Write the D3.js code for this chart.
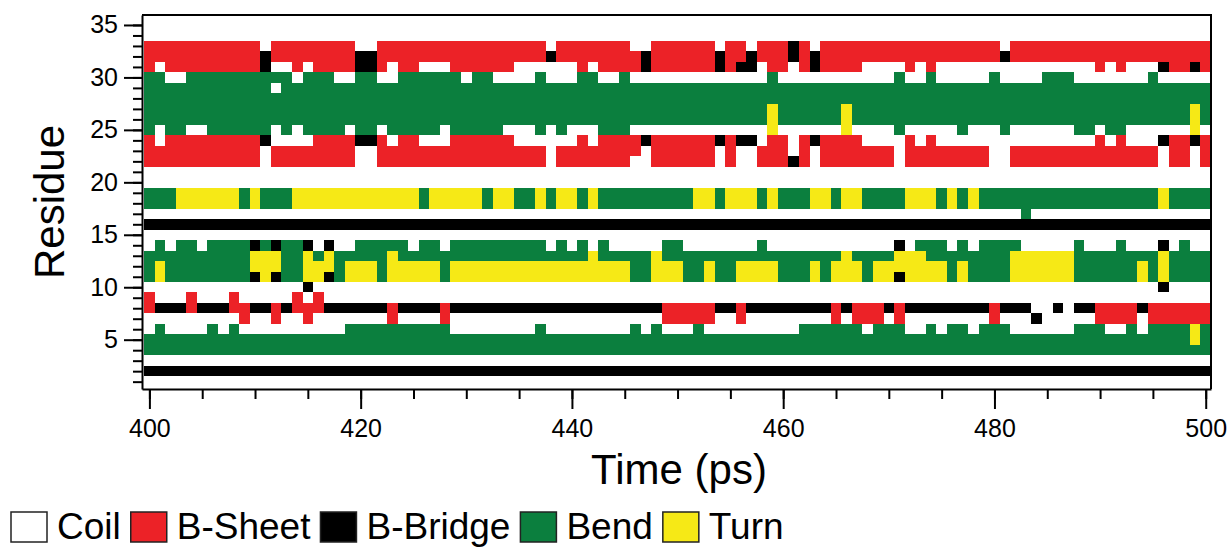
<!DOCTYPE html>
<meta charset="utf-8">
<title>DSSP secondary structure vs time</title>
<style>
body { margin: 0; background: #fff; }
svg { display: block; font-family: "Liberation Sans", Arial, sans-serif; }
.axis path, .axis line { stroke: #000; stroke-width: 2px; }
.axis text { font-size: 25px; fill: #000; }
.lbl { font-size: 42px; fill: #000; }
.leg text { font-size: 37px; fill: #000; }
.cells rect { shape-rendering: crispEdges; }
</style>
<svg width="1230" height="548"></svg>
<script src="https://d3js.org/d3.v7.min.js"></script>
<script>
// one string per residue, one char per frame (t = 400 ... 500 ps)
// C coil, E b-sheet, B b-bridge, S bend, T turn
var startTime = 400;
var residues = d3.range(1, 36);
var ssRows = [
/* 1 */ "CCCCCCCCCC CCCCCCCCCC CCCCCCCCCC CCCCCCCCCC CCCCCCCCCC CCCCCCCCCC CCCCCCCCCC CCCCCCCCCC CCCCCCCCCC CCCCCCCCCC C",
/* 2 */ "BBBBBBBBBB BBBBBBBBBB BBBBBBBBBB BBBBBBBBBB BBBBBBBBBB BBBBBBBBBB BBBBBBBBBB BBBBBBBBBB BBBBBBBBBB BBBBBBBBBB B",
/* 3 */ "CCCCCCCCCC CCCCCCCCCC CCCCCCCCCC CCCCCCCCCC CCCCCCCCCC CCCCCCCCCC CCCCCCCCCC CCCCCCCCCC CCCCCCCCCC CCCCCCCCCC C",
/* 4 */ "SSSSSSSSSS SSSSSSSSSS SSSSSSSSSS SSSSSSSSSS SSSSSSSSSS SSSSSSSSSS SSSSSSSSSS SSSSSSSSSS SSSSSSSSSS SSSSSSSSSS S",
/* 5 */ "SSSSSSSSSS SSSSSSSSSS SSSSSSSSSS SSSSSSSSSS SSSSSSSSSS SSSSSSSSSS SSSSSSSSSS SSSSSSSSSS SSSSSSSSSS SSSSSSSSST S",
/* 6 */ "CSCCCCSCSC CCCCCCCCCS SSSSSSSSSC CCCCCCCSCC CCCCCCSCSC CCSCCCCCCC CCSSSSSSCS SSCCSCSSCS SSCCCCCCSS SCCSCSSSST S",
/* 7 */ "CCCCCCCCCE CCECCECCCC CCCECCCCEC CCCCCCCCCC CCCCCCCCCE EEEECCECCC CCCCCECEEE CECCCCCCCC ECCCBCCCCC EEEECEEEEE E",
/* 8 */ "EBBBEBBBEE BBEBEEEBBB BBBEBBBBEB BBBBBBBBBB BBBBBBBBBE EEEEBBEBBB BBBBBEBEEE BEBBBBBBBB EBBBCCBCBB EEEEBEEEEE E",
/* 9 */ "ECCCECCCEC CCCCECECCC CCCCCCCCCC CCCCCCCCCC CCCCCCCCCC CCCCCCCCCC CCCCCCCCCC CCCCCCCCCC CCCCCCCCCC CCCCCCCCCC C",
/* 10 */ "CCCCCCCCCC CCCCCBCCCC CCCCCCCCCC CCCCCCCCCC CCCCCCCCCC CCCCCCCCCC CCCCCCCCCC CCCCCCCCCC CCCCCCCCCC CCCCCCBCCC C",
/* 11 */ "STSSSSSSSS BTBSSTTBST TTSTTTTTST TTTTTTTTTT TTTTTTSSTT TSSTSSTTTT SSSTSTTTST TBTTTTSTSS SSTTTTTTSS SSSSTSTSSS S",
/* 12 */ "STSSSSSSSS TTTSSTTTST TTSTTTTTST TTTTTTTTTT TTTTTTSSTT TSSTSSTTTT SSSTSTTTST TTTTTTSTSS SSTTTTTTSS SSSSTSTSSS S",
/* 13 */ "SSSSSSSSSS TTTSSTSTSS SSSTSSSSSS SSSSSSSSSS SSTSSSSSTS SSSSSSSSSS SSSSSSTSSS STTTSSSSSS SSTTTTTTSS SSSSSSTSSS S",
/* 14 */ "CSCSSCSSSS BSBSSBCBCC SSSSSCSSCS SSSSSSSSCS CSCSCCCCCS SCCCCCCCSC CCCCCCCCCC CBCSSSCSCS SSSCCCCCSC CCSCCCBCSC C",
/* 15 */ "CCCCCCCCCC CCCCCCCCCC CCCCCCCCCC CCCCCCCCCC CCCCCCCCCC CCCCCCCCCC CCCCCCCCCC CCCCCCCCCC CCCCCCCCCC CCCCCCCCCC C",
/* 16 */ "BBBBBBBBBB BBBBBBBBBB BBBBBBBBBB BBBBBBBBBB BBBBBBBBBB BBBBBBBBBB BBBBBBBBBB BBBBBBBBBB BBBBBBBBBB BBBBBBBBBB B",
/* 17 */ "CCCCCCCCCC CCCCCCCCCC CCCCCCCCCC CCCCCCCCCC CCCCCCCCCC CCCCCCCCCC CCCCCCCCCC CCCCCCCCCC CCCSCCCCCC CCCCCCCCCC C",
/* 18 */ "SSSTTTTTTS TSSSTTTTTT TTTTTTSTTT TTSTTSSTST TSTSSSSSSS SSTTSTTTST SSSTTSTTSS SSTTTSTSTS SSSSSSSSSS SSSSSSTSSS S",
/* 19 */ "SSSTTTTTTS TSSSTTTTTT TTTTTTSTTT TTSTTSSTST TSTSSSSSSS SSTTSTTTST SSSTTSTTSS SSTTTSTSTS SSSSSSSSSS SSSSSSTSSS S",
/* 20 */ "CCCCCCCCCC CCCCCCCCCC CCCCCCCCCC CCCCCCCCCC CCCCCCCCCC CCCCCCCCCC CCCCCCCCCC CCCCCCCCCC CCCCCCCCCC CCCCCCCCCC C",
/* 21 */ "CCCCCCCCCC CCCCCCCCCC CCCCCCCCCC CCCCCCCCCC CCCCCCCCCC CCCCCCCCCC CCCCCCCCCC CCCCCCCCCC CCCCCCCCCC CCCCCCCCCC C",
/* 22 */ "EEEEEEEEEE ECEEEEEEEE CCEEEEEEEE EEEEEEEECE EEEEEECCEE EEEECECCEE EBECEEEEEE ECEEEEEEEE CCEEEEEEEE EEEEEECEEC E",
/* 23 */ "EEEEEEEEEE ECEEEEEEEE CCEEEEEEEE EEEEEEEECE EEEEEEECEE EEEECECCEE ECECEEEEEE ECEEEEEEEE CCEEEEEEEE EEEEEECEEC E",
/* 24 */ "ECEEEEEEEE EBCCCCEEEE BBECEECCCE EEEEECCCCC CECEEEEBEE EEEEBEBBCE ECEBEEEECC CCECECCCCC CCCCCCCCCC ECECCCBEEB E",
/* 25 */ "SCSSCCSSSS SSCSCSSSSC SSCSSSSSCS SSSSCCCSCS CCCSSSCCCC CCCCCCCCCT CCCCCCTCCC CSCCCCCSCC CSCCCCCCSS CSSCCCCCCT C",
/* 26 */ "SSSSSSSSSS SSSSSSSSSS SSSSSSSSSS SSSSSSSSSS SSSSSSSSSS SSSSSSSSST SSSSSSTSSS SSSSSSSSSS SSSSSSSSSS SSSSSSSSST S",
/* 27 */ "SSSSSSSSSS SSSSSSSSSS SSSSSSSSSS SSSSSSSSSS SSSSSSSSSS SSSSSSSSST SSSSSSTSSS SSSSSSSSSS SSSSSSSSSS SSSSSSSSST S",
/* 28 */ "SSSSSSSSSS SSSSSSSSSS SSSSSSSSSS SSSSSSSSSS SSSSSSSSSS SSSSSSSSSS SSSSSSSSSS SSSSSSSSSS SSSSSSSSSS SSSSSSSSSS S",
/* 29 */ "SSSSSSSSSS SSCSSSSSSS SSSSSSSSSS SSSSSSSSSS SSSSSSSSSS SSSSSSSSSS SSSSSSSSSS SSSSSSSSSS SSSSSSSSSS SSSSSSSSSS S",
/* 30 */ "SSCCSSSSSS SSSSCSSSCC SSCCSSSSSS CSSCCCCSCC CSSCCSCCCC CCCCCCCCCS CCCCCCCCCC CSCCSCCCCC SCCCCSSSCC CCCCCSCCCC C",
/* 31 */ "ECEEEEEEEE EBCCECEEEE BBECEECCCE EEEEECCCCC CECEEEEBEE EEEEBEBBCE ECEBEEEECC CCECECCCCC CCCCCCCCCC ECECCCBEEB E",
/* 32 */ "EEEEEEEEEE EBEEEEEEEE BBEEEEEEEE EEEEEEEEBE EEEEEEEBEE EEEEBEEBEE EBEBEEEEEE EEEEEEEEEE EBEEEEEEEE EEEEEEEEEE E",
/* 33 */ "EEEEEEEEEE ECEEEEEEEE CCEEEEEEEE EEEEEEEECE EEEEEECCEE EEEECEECEE EBECEEEEEE EEEEEEEEEE ECEEEEEEEE EEEEEEEEEE E",
/* 34 */ "CCCCCCCCCC CCCCCCCCCC CCCCCCCCCC CCCCCCCCCC CCCCCCCCCC CCCCCCCCCC CCCCCCCCCC CCCCCCCCCC CCCCCCCCCC CCCCCCCCCC C",
/* 35 */ "CCCCCCCCCC CCCCCCCCCC CCCCCCCCCC CCCCCCCCCC CCCCCCCCCC CCCCCCCCCC CCCCCCCCCC CCCCCCCCCC CCCCCCCCCC CCCCCCCCCC C"
];
var ssCodes  = ["C", "E", "B", "S", "T"];
var ssNames  = ["Coil", "B-Sheet", "B-Bridge", "Bend", "Turn"];
var ssColors = ["#ffffff", "#ec2227", "#000000", "#0b7f3e", "#f6e916"];
var xTicks = [400, 420, 440, 460, 480, 500];
var yTicks = [5, 10, 15, 20, 25, 30, 35];

var svg = d3.select("svg");

var x = d3.scaleLinear().domain([399.3, 500.5]).range([142, 1211]);
var y = d3.scaleLinear().domain([0.3, 35.95]).range([389, 15]);
var color = d3.scaleOrdinal().domain(ssCodes).range(ssColors);

var cells = [];
ssRows.forEach(function(row, i) {
  row.replace(/ /g, "").split("").forEach(function(c, j) {
    if (c !== "C") cells.push({res: residues[i], t: startTime + j, ss: c});
  });
});

svg.append("g").attr("class", "cells").selectAll("rect")
  .data(cells)
  .enter().append("rect")
    .attr("x", function(d) { return Math.round(x(d.t - 0.5)); })
    .attr("width", function(d) { return Math.round(x(d.t + 0.5)) - Math.round(x(d.t - 0.5)); })
    .attr("y", function(d) { return Math.round(y(d.res + 0.5)); })
    .attr("height", function(d) { return Math.round(y(d.res - 0.5)) - Math.round(y(d.res + 0.5)); })
    .attr("fill", function(d) { return color(d.ss); });

// frame top / right
svg.append("path")
  .attr("d", "M" + x.range()[0] + "," + y.range()[1] + "H" + x.range()[1] + "V" + y.range()[0])
  .attr("fill", "none").attr("stroke", "#000").attr("stroke-width", 2);

// x axis
var gx = svg.append("g").attr("class", "axis").attr("transform", "translate(0," + y.range()[0] + ")");
gx.call(d3.axisBottom(x).tickValues(d3.range(400, 501, 5)).tickSize(10).tickSizeOuter(0).tickFormat(""));
gx.append("g").call(d3.axisBottom(x).tickValues(xTicks).tickSize(20).tickSizeOuter(0).tickPadding(10))
  .select(".domain").remove();
gx.selectAll("text").attr("font-family", null).attr("font-size", null);

// y axis
var gy = svg.append("g").attr("class", "axis").attr("transform", "translate(" + x.range()[0] + ",0)");
gy.call(d3.axisLeft(y).tickValues(residues).tickSize(9).tickSizeOuter(0).tickFormat(""));
gy.append("g").call(d3.axisLeft(y).tickValues(yTicks).tickSize(18).tickSizeOuter(0).tickPadding(6))
  .select(".domain").remove();
gy.selectAll("text").attr("font-family", null).attr("font-size", null);

svg.append("text").attr("class", "lbl")
  .attr("x", 679).attr("y", 484)
  .attr("text-anchor", "middle").text("Time (ps)");

svg.append("text").attr("class", "lbl")
  .attr("transform", "translate(64,202) rotate(-90)")
  .attr("text-anchor", "middle").text("Residue");

// legend
var leg = svg.append("g").attr("class", "leg").attr("transform", "translate(11,512)");
var lx = 0;
ssCodes.forEach(function(c, i) {
  leg.append("rect").attr("x", lx).attr("y", 0).attr("width", 36).attr("height", 30)
    .attr("fill", color(c)).attr("stroke", "#222").attr("stroke-width", 1.5);
  var t = leg.append("text").attr("x", lx + 46).attr("y", 27).text(ssNames[i]);
  lx += 46 + t.node().getComputedTextLength() + 10;
});
</script>
